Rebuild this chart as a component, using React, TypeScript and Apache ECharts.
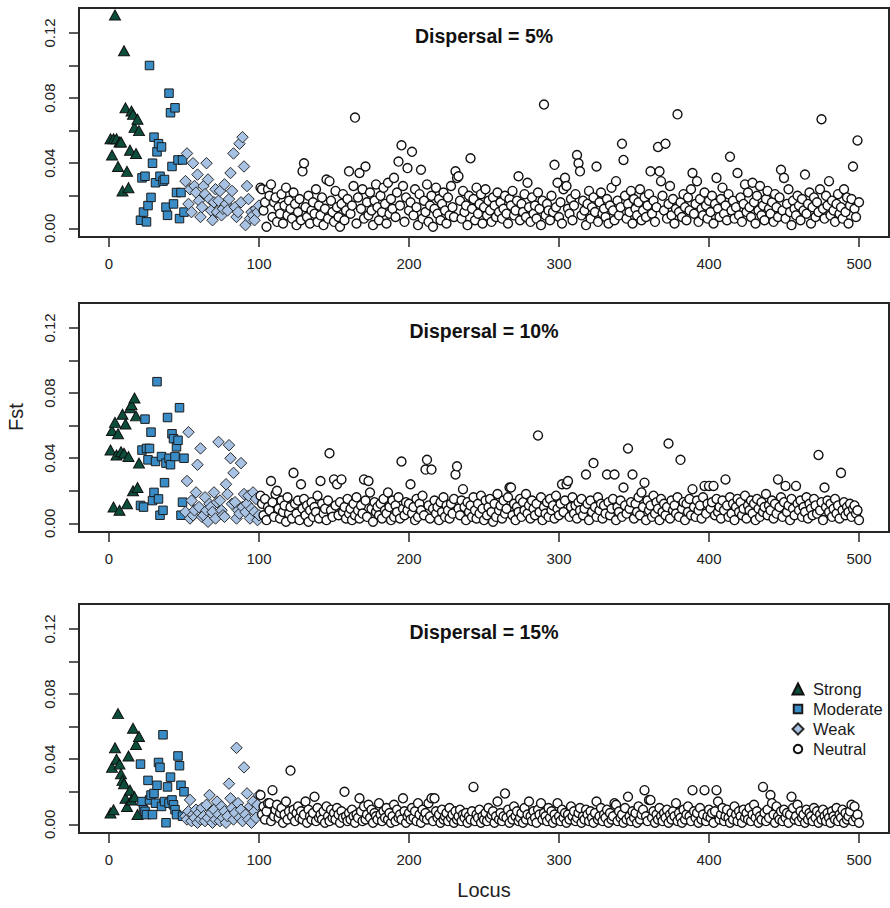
import React, { useEffect, useRef } from "react";
import * as echarts from "echarts";

// ---------- data (Fst values in thousandths, locus = start + index) ----------
const panelTitles = ["Dispersal = 5%", "Dispersal = 10%", "Dispersal = 15%"];
const groupNames = ["Strong", "Moderate", "Weak", "Neutral"];
const groupStartLocus = [1, 21, 51, 101];
const xTickValues = [0, 100, 200, 300, 400, 500];
const yTickValues = [0, 0.02, 0.04, 0.06, 0.08, 0.1, 0.12];
const yLabelValues = [0, 0.04, 0.08, 0.12];
const FST_UNIT = 0.001;

// Dispersal = 5%
const strong5 = [55, 45, 55, 131, 55, 38, 53, 53, 23, 109, 74, 35, 25, 48, 72, 70, 62, 46, 67, 60];
const moderate5 = [5, 31, 10, 32, 4, 14, 100, 19, 40, 56, 28, 47, 52, 32, 50, 29, 30, 13, 8, 83, 71, 38, 15, 74, 22, 42, 6, 22, 42, 10];
const weak5 = [
  29, 46, 15, 24, 10, 40, 26, 22, 33, 17, 7, 13, 26, 21, 40, 30, 18, 11, 5, 16,
  24, 10, 17, 23, 8, 12, 27, 15, 11, 18, 34, 23, 46, 13, 7, 10, 52, 16, 56, 38,
  2, 26, 18, 6, 10, 8, 5, 12, 10, 14,
];
const neutral5 = [
  25, 24, 11, 16, 1, 24, 20, 27, 7, 16, 19, 4, 13, 9, 21, 3, 14, 25, 8, 17,
  12, 6, 22, 15, 2, 10, 18, 5, 35, 40, 13, 7, 20, 3, 11, 16, 9, 24, 4, 14,
  8, 19, 2, 12, 30, 6, 29, 17, 10, 4, 23, 13, 7, 1, 15, 21, 5, 11, 18, 35,
  9, 14, 26, 68, 3, 19, 34, 12, 24, 6, 38, 16, 8, 22, 11, 2, 17, 27, 13, 5,
  20, 10, 25, 15, 3, 28, 9, 18, 12, 31, 7, 22, 41, 14, 51, 26, 4, 19, 37, 11,
  16, 47, 8, 24, 13, 2, 21, 36, 6, 17, 10, 27, 4, 14, 20, 1, 12, 25, 9, 18,
  5, 15, 22, 11, 3, 19, 8, 26, 13, 7, 35, 31, 32, 17, 6, 23, 10, 14, 2, 20,
  43, 12, 18, 5, 25, 9, 15, 21, 3, 13, 24, 8, 17, 11, 4, 19, 14, 7, 22, 10,
  16, 6, 12, 20, 9, 3, 18, 14, 23, 8, 11, 17, 32, 5, 15, 10, 21, 7, 28, 13,
  4, 19, 9, 14, 6, 22, 12, 2, 17, 76, 8, 15, 11, 5, 20, 10, 39, 13, 28, 7,
  16, 3, 24, 31, 26, 12, 9, 18, 5, 14, 21, 45, 40, 35, 8, 17, 11, 2, 15, 23,
  6, 13, 19, 10, 38, 4, 16, 22, 9, 12, 7, 18, 3, 14, 25, 11, 5, 29, 17, 8,
  13, 52, 42, 20, 6, 15, 10, 23, 3, 18, 12, 8, 16, 24, 5, 11, 19, 7, 14, 21,
  35, 9, 17, 4, 13, 50, 35, 29, 20, 11, 52, 6, 15, 26, 8, 18, 3, 12, 70, 10,
  16, 7, 21, 13, 5, 19, 11, 24, 34, 9, 15, 29, 4, 18, 12, 8, 22, 14, 6, 17,
  10, 20, 3, 15, 31, 12, 7, 18, 25, 9, 14, 5, 21, 44, 11, 17, 6, 13, 34, 8,
  19, 4, 15, 27, 10, 22, 13, 7, 28, 16, 3, 20, 11, 26, 8, 14, 5, 18, 23, 12,
  9, 16, 4, 21, 13, 7, 19, 36, 11, 31, 6, 15, 24, 10, 2, 17, 12, 8, 20, 14,
  5, 18, 11, 33, 9, 15, 22, 3, 13, 19, 7, 16, 10, 24, 67, 12, 6, 20, 14, 29,
  8, 17, 11, 4, 15, 21, 9, 13, 6, 24, 10, 19, 3, 14, 18, 38, 12, 7, 54, 16,
];

// Dispersal = 10%
const strong10 = [45, 57, 10, 62, 42, 55, 8, 44, 67, 43, 61, 12, 41, 71, 73, 20, 77, 66, 22, 37];
const moderate10 = [11, 45, 10, 64, 46, 39, 46, 56, 14, 19, 38, 87, 15, 5, 41, 8, 25, 37, 65, 40, 36, 55, 52, 41, 47, 51, 71, 5, 13, 40];
const weak10 = [
  7, 26, 56, 3, 14, 5, 8, 19, 36, 10, 46, 4, 5, 16, 8, 1, 12, 10, 7, 19,
  3, 13, 50, 14, 8, 5, 4, 24, 18, 48, 40, 12, 31, 13, 3, 8, 6, 37, 10, 18,
  7, 12, 17, 3, 9, 19, 7, 15, 2, 5,
];
const neutral10 = [
  17, 12, 5, 15, 2, 10, 8, 26, 13, 4, 18, 20, 9, 3, 14, 7, 11, 1, 16, 6,
  10, 3, 31, 12, 6, 14, 2, 24, 9, 15, 5, 11, 1, 8, 13, 4, 10, 7, 17, 3,
  26, 12, 6, 9, 2, 14, 43, 8, 4, 27, 11, 24, 5, 13, 27, 7, 10, 3, 15, 6,
  9, 2, 12, 5, 16, 8, 3, 11, 6, 27, 14, 4, 26, 19, 9, 1, 13, 7, 10, 5,
  12, 3, 15, 8, 6, 19, 10, 2, 14, 4, 11, 7, 16, 3, 38, 9, 5, 13, 8, 12,
  24, 6, 10, 2, 15, 4, 12, 8, 17, 5, 33, 39, 11, 3, 33, 9, 14, 6, 10, 2,
  13, 7, 16, 4, 11, 8, 3, 12, 6, 15, 30, 35, 9, 5, 14, 21, 10, 2, 13, 7,
  11, 4, 16, 8, 3, 12, 6, 17, 9, 2, 14, 5, 10, 15, 7, 1, 12, 4, 18, 8,
  11, 3, 14, 6, 9, 16, 22, 22, 5, 12, 2, 10, 7, 15, 4, 13, 8, 18, 6, 11,
  3, 14, 9, 5, 12, 54, 7, 16, 2, 10, 6, 13, 4, 15, 8, 11, 3, 17, 9, 5,
  12, 24, 7, 14, 24, 26, 4, 10, 16, 6, 11, 3, 13, 8, 15, 5, 9, 30, 12, 2,
  14, 7, 37, 10, 4, 16, 8, 12, 3, 11, 6, 30, 13, 5, 9, 15, 30, 2, 10, 7,
  14, 4, 22, 11, 6, 46, 9, 13, 30, 3, 12, 7, 16, 5, 19, 10, 25, 2, 14, 8,
  11, 4, 17, 6, 13, 9, 2, 15, 7, 12, 5, 10, 49, 3, 14, 8, 11, 6, 16, 4,
  39, 9, 13, 2, 12, 7, 15, 5, 21, 10, 4, 14, 8, 11, 3, 16, 23, 6, 12, 23,
  9, 13, 23, 5, 15, 7, 10, 3, 14, 8, 27, 11, 4, 16, 6, 12, 2, 10, 15, 7,
  13, 5, 9, 17, 3, 11, 8, 14, 6, 12, 2, 15, 9, 4, 13, 7, 10, 18, 5, 11,
  8, 14, 3, 12, 6, 27, 10, 16, 4, 13, 23, 7, 11, 2, 15, 9, 5, 23, 12, 8,
  14, 4, 10, 7, 16, 3, 12, 9, 5, 15, 11, 6, 42, 8, 13, 2, 22, 10, 14, 7,
  12, 4, 9, 15, 6, 11, 3, 31, 8, 13, 5, 10, 7, 12, 4, 9, 11, 6, 8, 2,
];

// Dispersal = 15%
const strong15 = [7, 35, 9, 47, 40, 68, 37, 31, 27, 25, 16, 11, 42, 21, 15, 59, 17, 49, 6, 54];
const moderate15 = [37, 14, 9, 8, 6, 27, 15, 18, 6, 19, 13, 24, 38, 35, 11, 55, 14, 1, 23, 13, 29, 15, 12, 9, 6, 42, 36, 24, 5, 20];
const weak15 = [
  5, 3, 8, 15, 2, 6, 4, 9, 1, 7, 3, 10, 5, 2, 12, 4, 18, 7, 1, 9,
  3, 14, 6, 2, 11, 4, 8, 1, 5, 25, 16, 10, 3, 7, 47, 13, 4, 9, 2, 35,
  6, 19, 3, 11, 1, 14, 8, 4, 12, 18,
];
const neutral15 = [
  18, 6, 11, 3, 8, 13, 13, 2, 21, 5, 9, 12, 4, 7, 10, 1, 6, 14, 3, 8,
  33, 5, 9, 2, 7, 11, 4, 8, 3, 6, 14, 1, 9, 5, 3, 7, 17, 2, 10, 4,
  6, 3, 8, 1, 11, 5, 2, 9, 4, 7, 3, 10, 6, 1, 8, 4, 20, 5, 2, 7,
  3, 9, 5, 1, 6, 4, 16, 8, 2, 11, 3, 6, 12, 4, 9, 1, 7, 5, 3, 13,
  6, 2, 8, 4, 10, 3, 7, 1, 5, 12, 2, 9, 4, 6, 3, 16, 8, 1, 5, 7,
  3, 10, 4, 8, 2, 13, 6, 1, 9, 4, 7, 3, 13, 5, 16, 2, 16, 8, 4, 6,
  1, 9, 3, 5, 7, 2, 10, 4, 6, 1, 8, 3, 5, 9, 2, 6, 4, 7, 1, 5,
  3, 8, 23, 2, 6, 4, 9, 1, 5, 3, 7, 2, 10, 4, 6, 8, 1, 5, 14, 3,
  7, 2, 5, 19, 4, 9, 1, 6, 3, 11, 5, 8, 2, 4, 7, 1, 10, 3, 6, 14,
  5, 2, 8, 4, 1, 9, 6, 13, 3, 7, 5, 2, 10, 4, 8, 1, 6, 3, 13, 5,
  2, 9, 4, 7, 1, 6, 3, 11, 5, 8, 2, 4, 7, 10, 1, 5, 3, 9, 6, 2,
  8, 4, 1, 7, 14, 3, 5, 10, 2, 6, 4, 9, 1, 7, 3, 5, 13, 12, 2, 8,
  4, 6, 1, 10, 3, 17, 5, 2, 8, 4, 7, 1, 11, 3, 6, 9, 21, 5, 2, 15,
  15, 4, 8, 1, 6, 3, 10, 5, 2, 7, 4, 9, 1, 6, 3, 8, 5, 13, 2, 7,
  4, 1, 9, 3, 6, 11, 5, 2, 21, 8, 4, 7, 1, 10, 3, 6, 21, 2, 5, 9,
  4, 7, 1, 8, 21, 14, 3, 6, 10, 2, 5, 9, 4, 1, 7, 3, 11, 6, 2, 8,
  5, 1, 9, 4, 7, 3, 10, 2, 6, 12, 4, 8, 1, 5, 3, 23, 7, 2, 9, 4,
  18, 13, 6, 1, 11, 5, 3, 8, 2, 9, 4, 7, 1, 6, 17, 10, 3, 5, 12, 2,
  8, 4, 6, 1, 9, 3, 7, 5, 2, 10, 4, 8, 1, 6, 3, 9, 5, 2, 7, 4,
  1, 8, 5, 3, 10, 2, 6, 4, 9, 1, 7, 3, 5, 8, 12, 2, 11, 4, 6, 1,
];

const panelGroups = [
  [strong5, moderate5, weak5, neutral5],
  [strong10, moderate10, weak10, neutral10],
  [strong15, moderate15, weak15, neutral15],
];

// ---------- styles ----------
const FONT = "'Liberation Sans', Arial, Helvetica, sans-serif";
const INK = "#262626";
const groupStyles = [
  { symbol: "triangle", size: [11, 10], color: "#0c4d3b", border: "#111", bw: 1 },
  { symbol: "rect", size: 8.5, color: "#3a8cc6", border: "#1a1a1a", bw: 1 },
  { symbol: "diamond", size: 11.5, color: "#a8c2e4", border: "#2a2a2a", bw: 1 },
  { symbol: "circle", size: 9, color: "#ffffff", border: "#111", bw: 1.4 },
];
const legendIconSizes = [11, 8.5, 11, 8.5];
const gridTops = [8, 303, 604];
const GRID_LEFT = 79;
const GRID_WIDTH = 810;
const GRID_HEIGHT = 229;

export default function App() {
  const ref = useRef<HTMLDivElement | null>(null);

  useEffect(() => {
    if (!ref.current) return;
    const chart = echarts.init(ref.current, undefined, { renderer: "svg" });

    const grid = gridTops.map((top) => ({
      left: GRID_LEFT,
      top,
      width: GRID_WIDTH,
      height: GRID_HEIGHT,
      show: true,
      borderColor: INK,
      borderWidth: 2,
      backgroundColor: "transparent",
      containLabel: false,
    }));

    const xAxis = gridTops.map((_, i) => ({
      type: "value",
      gridIndex: i,
      position: "bottom",
      min: -20,
      max: 520,
      splitLine: { show: false },
      axisLine: { show: false, onZero: false },
      axisTick: {
        show: true,
        length: 10,
        customValues: xTickValues,
        lineStyle: { color: INK, width: 1.5 },
      },
      axisLabel: {
        show: true,
        customValues: xTickValues,
        margin: 19,
        fontSize: 15,
        fontFamily: FONT,
        color: "#222",
      },
    }));

    const yAxis = gridTops.map((_, i) => ({
      type: "value",
      gridIndex: i,
      position: "left",
      min: -0.0053,
      max: 0.1353,
      splitLine: { show: false },
      axisLine: { show: false, onZero: false },
      axisTick: {
        show: true,
        length: 10,
        customValues: yTickValues,
        lineStyle: { color: INK, width: 1.5 },
      },
      axisLabel: {
        show: true,
        customValues: yLabelValues,
        rotate: 90,
        margin: 22,
        fontSize: 15,
        fontFamily: FONT,
        color: "#222",
        formatter: (v: number) => v.toFixed(2),
      },
    }));

    const series: any[] = [];
    panelGroups.forEach((groups, p) => {
      groups.forEach((vals, g) => {
        const st = groupStyles[g];
        series.push({
          name: groupNames[g],
          type: "scatter",
          xAxisIndex: p,
          yAxisIndex: p,
          symbol: st.symbol,
          symbolSize: st.size,
          itemStyle: { color: st.color, borderColor: st.border, borderWidth: st.bw, opacity: 1 },
          emphasis: { disabled: true },
          z: 2 + g * 0.01,
          data: vals.map((v, i) => [groupStartLocus[g] + i, v * FST_UNIT]),
        });
      });
    });

    const legend = groupNames.map((name, g) => {
      const w = legendIconSizes[g];
      return {
        data: [name],
        orient: "vertical",
        left: 797 - w / 2,
        top: 680 + g * 20,
        padding: 0,
        itemWidth: w,
        itemHeight: w,
        selectedMode: false,
        textStyle: {
          fontSize: 16.5,
          fontFamily: FONT,
          color: "#1a1a1a",
          lineHeight: 18,
          padding: [0, 0, 0, Math.max(0, 10 - w / 2)],
        },
      };
    });

    const graphic: any[] = panelTitles.map((t, i) => ({
      type: "text",
      x: 484,
      y: gridTops[i] + 27.5,
      style: {
        text: t,
        font: `bold 19.5px ${FONT}`,
        fill: "#111",
        textAlign: "center",
        textVerticalAlign: "middle",
      },
    }));
    graphic.push({
      type: "text",
      x: 16,
      y: 417,
      rotation: Math.PI / 2,
      style: {
        text: "Fst",
        font: `20px ${FONT}`,
        fill: "#222",
        textAlign: "center",
        textVerticalAlign: "middle",
      },
    });
    graphic.push({
      type: "text",
      x: 484,
      y: 890,
      style: {
        text: "Locus",
        font: `20px ${FONT}`,
        fill: "#222",
        textAlign: "center",
        textVerticalAlign: "middle",
      },
    });

    chart.setOption({
      animation: false,
      backgroundColor: "#ffffff",
      grid,
      xAxis,
      yAxis,
      series,
      legend,
      graphic,
      tooltip: { show: false },
    });

    return () => {
      chart.dispose();
    };
  }, []);

  return (
    <div
      ref={ref}
      style={{ position: "absolute", left: 0, top: 0, width: 890, height: 908 }}
    />
  );
}
